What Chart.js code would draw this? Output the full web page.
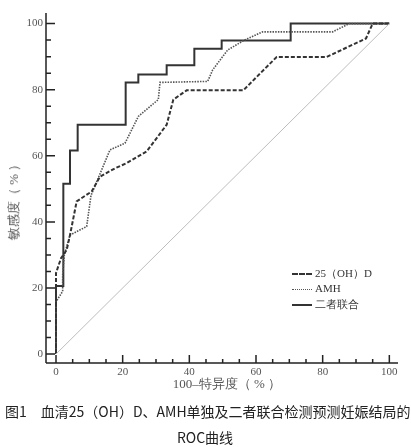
<!DOCTYPE html>
<html>
<head>
<meta charset="utf-8">
<script src="https://cdn.jsdelivr.net/npm/chart.js@4/dist/chart.umd.min.js"></script>
<style>
  html, body { margin:0; padding:0; background:#fff; }
  #wrap { position:relative; width:411px; height:447px; overflow:hidden; }
  #c { position:absolute; left:0; top:0; }
  .t { position:absolute; white-space:nowrap; color:#555; }
  .serif { font-family:"Liberation Serif","DejaVu Serif",serif; }
  .leg { position:absolute; left:292px; font-family:"Liberation Serif",serif; font-size:11px; color:#333; white-space:nowrap; }
  .leg span.s { display:inline-block; width:20px; height:0; vertical-align:middle; margin-right:3px; }
  .cap { position:absolute; font-family:"Noto Sans CJK SC",sans-serif; font-size:14px; color:#222; white-space:nowrap; }
</style>
</head>
<body>
<div id="wrap">
  <canvas id="c" width="411" height="447"></canvas>
  <div class="t serif" style="left:13.5px; top:199px; font-size:13px; transform:translate(-50%,-50%) rotate(-90deg);">敏感度（ % ）</div>
  <div class="t serif" style="left:227px; top:384px; font-size:13px; transform:translate(-50%,-50%);">100–特异度（ % ）</div>
  <div class="leg" style="top:266px;"><span class="s" style="border-top:2px dashed #333;"></span>25（OH）D</div>
  <div class="leg" style="top:282px;"><span class="s" style="border-top:1.5px dotted #555;"></span>AMH</div>
  <div class="leg" style="top:297px;"><span class="s" style="border-top:2px solid #333;"></span>二者联合</div>
  <div class="cap" style="left:5px; top:401px;">图1　血清25（OH）D、AMH单独及二者联合检测预测妊娠结局的</div>
  <div class="cap" style="left:205px; top:427px; transform:translateX(-50%);">ROC曲线</div>
</div>
<script>
// ---- data ----
const xTicks = [0, 20, 40, 60, 80, 100];
const yTicks = [0, 20, 40, 60, 80, 100];

const vitDX = [0, 0, 1.5, 3.2, 4.2, 6.2, 10.7, 13.2, 17.7, 21.2, 27.2, 33.2, 35.2, 39.2, 56.2, 66.2, 81.2, 93, 95, 100];
const vitDY = [0, 24.5, 29, 31.5, 36, 46.2, 49.2, 53.7, 56.2, 57.8, 61.3, 69.4, 77, 79.8, 79.8, 89.9, 89.9, 95.5, 100, 100];

const amhX = [0, 0, 2, 2, 2.5, 4.2, 9.2, 10.5, 16.2, 20.7, 24.7, 30.7, 31.2, 45.5, 47, 51.5, 56.5, 62, 83, 88, 100];
const amhY = [0, 15.8, 19, 24, 30, 36, 38.6, 48, 61.8, 63.8, 71.9, 77, 82.2, 82.5, 86, 92, 95, 97.5, 97.5, 100, 100];

const comboX = [0, 0, 2.2, 2.2, 4.2, 4.2, 6.5, 6.5, 20.9, 20.9, 24.7, 24.7, 33.2, 33.2, 41.5, 41.5, 49.7, 49.7, 70.4, 70.4, 100];
const comboY = [0, 20.6, 20.6, 51.5, 51.5, 61.6, 61.6, 69.4, 69.4, 82.2, 82.2, 84.6, 84.6, 87.4, 87.4, 92.4, 92.4, 94.9, 94.9, 100, 100];

const diagX = [0, 100];
const diagY = [0, 100];

const pts = (xs, ys) => xs.map((x, i) => ({ x: x, y: ys[i] }));

const axisPlugin = {
  id: 'axisPlugin',
  afterDraw(chart) {
    const ctx = chart.ctx, a = chart.chartArea;
    const xs = chart.scales.x, ys = chart.scales.y;
    ctx.save();
    ctx.strokeStyle = '#222';
    ctx.lineWidth = 1.5;
    ctx.beginPath();
    ctx.moveTo(a.left, a.top); ctx.lineTo(a.left, a.bottom);
    ctx.moveTo(a.left, a.bottom); ctx.lineTo(a.right, a.bottom);
    for (let v = 0; v <= 100; v += 5) {
      const p = ys.getPixelForValue(v);
      const len = (v % 20 === 0) ? 9 : 5;
      ctx.moveTo(a.left, p); ctx.lineTo(a.left + len, p);
    }
    for (let v = 0; v <= 100; v += 5) {
      const p = xs.getPixelForValue(v);
      const len = (v % 20 === 0) ? 8 : 4;
      ctx.moveTo(p, a.bottom); ctx.lineTo(p, a.bottom - len);
    }
    ctx.stroke();
    ctx.restore();
  }
};

const tickFont = { family: 'Liberation Serif', size: 11 };

new Chart(document.getElementById('c'), {
  type: 'scatter',
  data: {
    datasets: [
      { label: 'diag', data: pts(diagX, diagY), showLine: true, borderColor: '#bdbdbd', borderWidth: 1, pointRadius: 0 },
      { label: '25（OH）D', data: pts(vitDX, vitDY), showLine: true, borderColor: '#333', borderWidth: 2, borderDash: [4, 2], pointRadius: 0 },
      { label: 'AMH', data: pts(amhX, amhY), showLine: true, borderColor: '#555', borderWidth: 1.6, borderDash: [1.5, 1.2], pointRadius: 0 },
      { label: '二者联合', data: pts(comboX, comboY), showLine: true, borderColor: '#333', borderWidth: 2, pointRadius: 0 }
    ]
  },
  options: {
    responsive: false,
    animation: false,
    clip: false,
    layout: { padding: { top: 13, right: 13, left: 0, bottom: 52 } },
    plugins: { legend: { display: false }, tooltip: { enabled: false } },
    scales: {
      x: {
        type: 'linear', min: -3, max: 102.6,
        grid: { display: false, drawTicks: false }, border: { display: false },
        afterBuildTicks: s => { s.ticks = xTicks.map(v => ({ value: v })); },
        afterFit: s => { s.height = 32; },
        ticks: { autoSkip: false, maxRotation: 0, padding: 3, color: '#555', font: tickFont }
      },
      y: {
        type: 'linear', min: -2.7, max: 103.2,
        grid: { display: false, drawTicks: false }, border: { display: false },
        afterBuildTicks: s => { s.ticks = yTicks.map(v => ({ value: v })); },
        afterFit: s => { s.width = 46; },
        ticks: { autoSkip: false, padding: 3, color: '#555', font: tickFont }
      }
    }
  },
  plugins: [axisPlugin]
});
</script>
</body>
</html>
